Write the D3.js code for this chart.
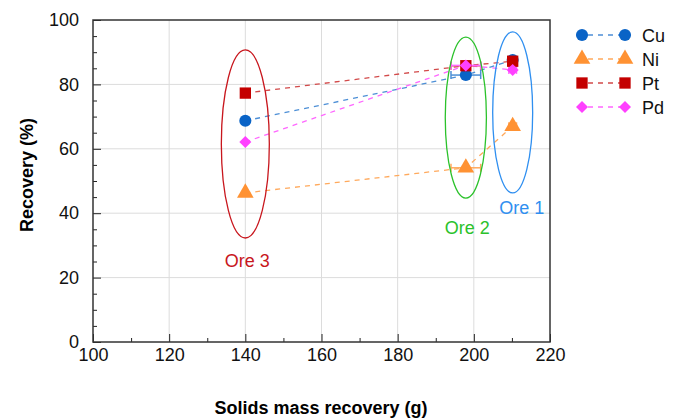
<!DOCTYPE html>
<html>
<head>
<meta charset="utf-8">
<script src="https://d3js.org/d3.v7.min.js"></script>
<style>
  body { margin: 0; background: white; }
  text { font-family: "Liberation Sans", Arial, sans-serif; }
</style>
</head>
<body>
<div id="chart"></div>
<script>
// data: three ores, x = solids mass recovery (g), y = recovery (%)
var ores = ["Ore 3", "Ore 2", "Ore 1"];
var massX = [140, 197.9, 210.2];
var massErr = [0, 3.9, 1.0];
var cuVals = [68.7, 82.9, 87.6];
var niVals = [46.3, 54.1, 67.0];
var ptVals = [77.3, 85.8, 87.2];
var pdVals = [62.1, 85.9, 84.5];
var xTicks = [100, 120, 140, 160, 180, 200, 220];
var yTicks = [0, 20, 40, 60, 80, 100];

var series = [
  { name: "Cu", values: cuVals, color: "#0a63c6", line: "#4d8fd6", sym: d3.symbolCircle, size: 115, rot: 0 },
  { name: "Ni", values: niVals, color: "#ff9233", line: "#ffa95c", sym: d3.symbolTriangle, size: 120, rot: 0 },
  { name: "Pt", values: ptVals, color: "#c40000", line: "#d24a4a", sym: d3.symbolSquare, size: 128, rot: 0 },
  { name: "Pd", values: pdVals, color: "#ff40ff", line: "#ff66ff", sym: d3.symbolSquare, size: 72, rot: 45 }
];

// ellipses around each ore group (data units), label position in data units
var groups = [
  { label: "Ore 3", cx: 140, cy: 61.5, rx: 6.3, ry: 29.2, color: "#c8161d", lx: 140.5, ly: 23.3 },
  { label: "Ore 2", cx: 197.9, cy: 69.7, rx: 5.4, ry: 25, color: "#2bc22b", lx: 198.3, ly: 33.6 },
  { label: "Ore 1", cx: 210.2, cy: 71.3, rx: 5.25, ry: 25, color: "#2f8ff0", lx: 212.6, ly: 39.6 }
];

var margin = { top: 20, left: 93, right: 129, bottom: 77 },
    width = 679 - margin.left - margin.right,
    height = 419 - margin.top - margin.bottom;

var svg = d3.select("#chart").append("svg")
  .attr("width", 679).attr("height", 419);
var g = svg.append("g")
  .attr("transform", "translate(" + margin.left + "," + margin.top + ")");

var x = d3.scaleLinear().domain([100, 220]).range([0, width]);
var y = d3.scaleLinear().domain([0, 100]).range([height, 0]);

// grid
g.append("g").selectAll("line").data(xTicks.slice(1, -1)).enter().append("line")
  .attr("x1", d => x(d)).attr("x2", d => x(d))
  .attr("y1", 0).attr("y2", height)
  .attr("stroke", "#dcdcdc");
g.append("g").selectAll("line").data(yTicks.slice(1, -1)).enter().append("line")
  .attr("y1", d => y(d)).attr("y2", d => y(d))
  .attr("x1", 0).attr("x2", width)
  .attr("stroke", "#dcdcdc");

// axes: inward ticks
var xAxis = d3.axisBottom(x).tickValues(xTicks).tickSize(-8).tickPadding(6);
var yAxis = d3.axisLeft(y).tickValues(yTicks).tickSize(-8).tickPadding(14);
var xMinor = d3.axisBottom(x).tickValues(d3.range(110, 220, 20)).tickSize(-4).tickFormat("");
var yMinor = d3.axisLeft(y).tickValues(d3.range(5, 100, 5).filter(v => v % 20)).tickSize(-4).tickFormat("");

function styleAxis(sel) {
  sel.select(".domain").remove();
  sel.selectAll("line").attr("stroke", "#222");
  sel.selectAll("text").attr("font-size", 18).attr("fill", "#111")
    .style("font-family", "'Liberation Sans', Arial, sans-serif");
}
g.append("g").attr("transform", "translate(0," + height + ")").call(xAxis).call(styleAxis);
g.append("g").attr("transform", "translate(0," + height + ")").call(xMinor).call(styleAxis);
g.append("g").call(yAxis).call(styleAxis);
g.append("g").call(yMinor).call(styleAxis);

// frame
g.append("rect").attr("width", width).attr("height", height)
  .attr("fill", "none").attr("stroke", "#333").attr("stroke-width", 1.5);

// axis titles
svg.append("text")
  .attr("x", 321).attr("y", 414)
  .attr("text-anchor", "middle").attr("font-size", 18).attr("font-weight", "bold")
  .text("Solids mass recovery (g)");
svg.append("text")
  .attr("transform", "translate(33,175) rotate(-90)")
  .attr("text-anchor", "middle").attr("font-size", 18).attr("font-weight", "bold")
  .text("Recovery (%)");

// dashed connecting lines
var line = d3.line().x((d, i) => x(massX[i])).y(d => y(d));
series.forEach(function(s) {
  g.append("path").datum(s.values)
    .attr("d", line)
    .attr("fill", "none")
    .attr("stroke", s.line)
    .attr("stroke-width", 1.3)
    .attr("stroke-dasharray", "5,5");
});

// horizontal error bars
series.forEach(function(s) {
  s.values.forEach(function(v, i) {
    if (!massErr[i]) return;
    var x0 = x(massX[i] - massErr[i]), x1 = x(massX[i] + massErr[i]), yy = y(v);
    var eb = g.append("g").attr("stroke", s.line).attr("stroke-width", 1.5);
    eb.append("line").attr("x1", x0).attr("x2", x1).attr("y1", yy).attr("y2", yy);
    eb.append("line").attr("x1", x0).attr("x2", x0).attr("y1", yy - 4).attr("y2", yy + 4);
    eb.append("line").attr("x1", x1).attr("x2", x1).attr("y1", yy - 4).attr("y2", yy + 4);
  });
});

// markers
series.forEach(function(s) {
  g.append("g").selectAll("path").data(s.values).enter().append("path")
    .attr("transform", (d, i) => "translate(" + x(massX[i]) + "," + y(d) + ") rotate(" + s.rot + ")")
    .attr("d", d3.symbol().type(s.sym).size(s.size))
    .attr("fill", s.color);
});

// group ellipses and labels
groups.forEach(function(e) {
  g.append("ellipse")
    .attr("cx", x(e.cx)).attr("cy", y(e.cy))
    .attr("rx", x(e.cx + e.rx) - x(e.cx)).attr("ry", y(e.cy - e.ry) - y(e.cy))
    .attr("fill", "none").attr("stroke", e.color).attr("stroke-width", 1.3);
  g.append("text")
    .attr("x", x(e.lx)).attr("y", y(e.ly))
    .attr("text-anchor", "middle").attr("font-size", 18)
    .attr("fill", e.color)
    .text(e.label);
});

// legend
var legend = svg.append("g").attr("transform", "translate(582,35)");
series.forEach(function(s, i) {
  var row = legend.append("g").attr("transform", "translate(0," + (i * 24) + ")");
  row.append("line").attr("x1", 0).attr("x2", 43)
    .attr("stroke", s.line).attr("stroke-width", 1.3).attr("stroke-dasharray", "5,5")
    .attr("stroke-dashoffset", -6);
  row.append("path").attr("transform", "rotate(" + s.rot + ")")
    .attr("d", d3.symbol().type(s.sym).size(s.size)).attr("fill", s.color);
  row.append("path").attr("transform", "translate(43,0) rotate(" + s.rot + ")")
    .attr("d", d3.symbol().type(s.sym).size(s.size)).attr("fill", s.color);
  row.append("text").attr("x", 60).attr("y", 6.5)
    .attr("font-size", 18).attr("fill", "#111").text(s.name);
});
</script>
</body>
</html>
